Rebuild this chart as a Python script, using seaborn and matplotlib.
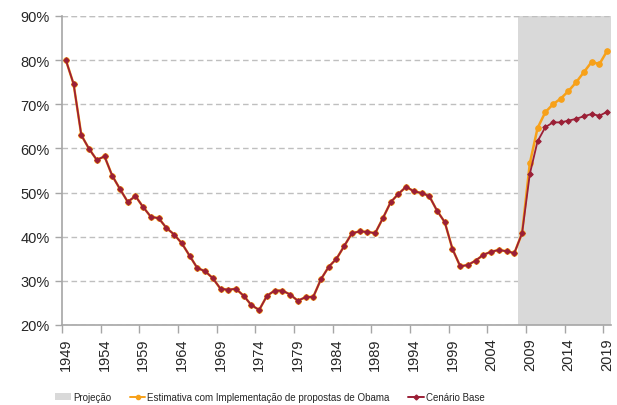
import matplotlib
matplotlib.use("Agg")
import matplotlib.pyplot as plt
from matplotlib.patches import Patch
from matplotlib.lines import Line2D
from matplotlib.ticker import FuncFormatter, FixedLocator
import seaborn as sns
import pandas as pd

# ============ DATA ============
anos = list(range(1949, 2020))

# historical values, 1949-2008 (% of GDP)
historico = [80.0, 74.6, 63.0, 59.9, 57.4, 58.2, 53.8, 50.8, 47.9, 49.2,
             46.7, 44.5, 44.2, 42.0, 40.5, 38.5, 35.7, 32.9, 32.2, 30.6,
             28.2, 28.0, 28.2, 26.6, 24.5, 23.4, 26.6, 27.8, 27.8, 26.9,
             25.5, 26.3, 26.4, 30.4, 33.2, 35.0, 37.9, 40.8, 41.2, 41.1,
             40.8, 44.2, 47.8, 49.7, 51.3, 50.3, 49.9, 49.2, 45.9, 43.3,
             37.2, 33.3, 33.6, 34.6, 35.9, 36.6, 37.0, 36.7, 36.3, 40.8]

# projections 2009-2019
base_proj = [54.2, 61.6, 64.8, 65.9, 65.9, 66.3, 66.7, 67.3, 67.8, 67.4, 68.3]
obama_proj = [56.6, 64.6, 68.2, 70.0, 71.3, 73.0, 75.0, 77.3, 79.6, 79.1, 82.1]

inicio_projecao = 2008
anos_rotulo = list(range(1949, 2020, 5))

df = pd.DataFrame({
    "ano": anos,
    "base": historico + base_proj,
    "obama": historico + obama_proj,
})

# ============ STYLE ============
sns.set_style("white")
plt.rcParams["font.family"] = ["Liberation Sans", "DejaVu Sans"]

LARANJA = "#F7A11A"
VERMELHO = "#9B1F36"
CINZA = "#D9D9D9"

fig = plt.figure(figsize=(6.17, 4.06), dpi=100)
ax = fig.add_axes([62 / 617, 1 - 326 / 406, 549 / 617, 309 / 406])

# projection shading
ax.axvspan(inicio_projecao - 0.5, 2019.5, color=CINZA, zorder=1, lw=0)

# lines (orange series sits under the base series over the history)
sns.lineplot(data=df, x="ano", y="obama", ax=ax, color=LARANJA, lw=1.8,
             marker="o", markersize=4, markeredgecolor=LARANJA, zorder=3)
sns.lineplot(data=df, x="ano", y="base", ax=ax, color=VERMELHO, lw=1.3,
             marker="D", markersize=2.8, markeredgecolor=VERMELHO, zorder=4)

# ============ AXES ============
ax.set_xlim(1948.5, 2019.5)
ax.set_ylim(20, 90)
ax.set_xlabel("")
ax.set_ylabel("")

ax.set_yticks(range(20, 91, 10))
ax.yaxis.set_major_formatter(FuncFormatter(lambda v, p: f"{v:.0f}%"))
ax.yaxis.grid(True, color="#BFBFBF", linestyle=(0, (4, 2.5)), lw=1, zorder=0)
ax.set_axisbelow(True)
ax.axhline(90, color="#BFBFBF", linestyle=(0, (4, 2.5)), lw=1, zorder=2)

# category labels at centres, tick marks at the boundaries
ax.xaxis.set_major_locator(FixedLocator(anos_rotulo))
ax.set_xticklabels([str(a) for a in anos_rotulo], rotation=90)
ax.xaxis.set_minor_locator(FixedLocator([a - 0.5 for a in anos_rotulo]))
ax.tick_params(axis="x", which="major", length=0, pad=9, labelsize=10.5,
               labelcolor="#262626")
ax.tick_params(axis="x", which="minor", length=6, width=1, color="#A6A6A6",
               bottom=True)
ax.tick_params(axis="y", length=5, width=1, color="#A6A6A6", left=True,
               labelsize=10.5, labelcolor="#262626", pad=4)

for s in ["top", "right"]:
    ax.spines[s].set_visible(False)
for s in ["left", "bottom"]:
    ax.spines[s].set_color("#A6A6A6")
    ax.spines[s].set_linewidth(1.2)

# ============ LEGEND ============
handles = [
    Patch(facecolor=CINZA, edgecolor="none", label="Projeção"),
    Line2D([], [], color=LARANJA, lw=1.4, marker="o", markersize=3,
           label="Estimativa com Implementação de propostas de Obama"),
    Line2D([], [], color=VERMELHO, lw=1.4, marker="D", markersize=2.5,
           label="Cenário Base"),
]
fig.legend(handles=handles, loc="center", bbox_to_anchor=(270 / 617, 8 / 406),
           ncol=3, frameon=False, fontsize=7.05, handlelength=1.6,
           handletextpad=0.2, columnspacing=1.9, labelcolor="#262626")

fig.savefig("out.png", dpi=100)
